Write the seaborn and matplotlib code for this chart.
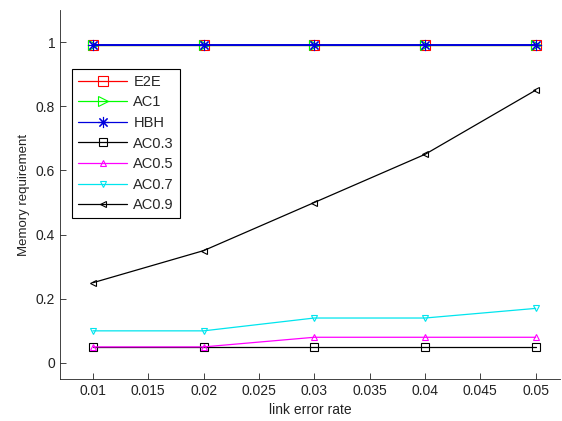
import numpy as np
import pandas as pd
import matplotlib
matplotlib.use("Agg")
import matplotlib.pyplot as plt
import seaborn as sns

# data
error_rate = [0.01, 0.02, 0.03, 0.04, 0.05]
e2e = [0.99, 0.99, 0.99, 0.99, 0.99]
ac1 = [0.99, 0.99, 0.99, 0.99, 0.99]
hbh = [0.99, 0.99, 0.99, 0.99, 0.99]
ac03 = [0.05, 0.05, 0.05, 0.05, 0.05]
ac05 = [0.05, 0.05, 0.08, 0.08, 0.08]
ac07 = [0.10, 0.10, 0.14, 0.14, 0.17]
ac09 = [0.25, 0.35, 0.50, 0.65, 0.85]

series_names = ["E2E", "AC1", "HBH", "AC0.3", "AC0.5", "AC0.7", "AC0.9"]
series_values = [e2e, ac1, hbh, ac03, ac05, ac07, ac09]

x_ticks = [0.01, 0.015, 0.02, 0.025, 0.03, 0.035, 0.04, 0.045, 0.05]
x_tick_labels = ["0.01", "0.015", "0.02", "0.025", "0.03", "0.035", "0.04", "0.045", "0.05"]
y_ticks = [0, 0.2, 0.4, 0.6, 0.8, 1]
y_tick_labels = ["0", "0.2", "0.4", "0.6", "0.8", "1"]

# styles per series
colors = ["#ff0000", "#00ff00", "#0000dd", "#000000", "#ff00ff", "#00e5ee", "#000000"]
markers = ["s", ">", (8, 2, 0), "s", "^", "v", "<"]
msizes = [7, 7, 8, 6, 5, 5, 5]
widths = [0.9, 0.9, 1.4, 0.9, 0.9, 0.9, 0.9]

df = pd.DataFrame({"rate": error_rate})
for name, vals in zip(series_names, series_values):
    df[name] = vals

sns.set_style("ticks")
plt.rcParams["font.family"] = ["Liberation Sans", "DejaVu Sans"]

fig = plt.figure(figsize=(5.62, 4.21), dpi=100)
ax = fig.add_axes([0.1068, 0.0998, 0.8897, 0.8765])

for name, c, m, ms, lw in zip(series_names, colors, markers, msizes, widths):
    sns.lineplot(
        data=df, x="rate", y=name, ax=ax, label=name,
        color=c, marker=m, markersize=ms,
        markerfacecolor="none", markeredgecolor=c, markeredgewidth=0.8,
        linewidth=lw,
    )

ax.set_xlim(0.00703, 0.0522)
ax.set_ylim(-0.05, 1.1)
ax.set_xticks(x_ticks)
ax.set_xticklabels(x_tick_labels)
ax.set_yticks(y_ticks)
ax.set_yticklabels(y_tick_labels)
ax.tick_params(direction="in", length=4, width=0.6, labelsize=10, colors="#222222")
ax.set_xlabel("link error rate", fontsize=10, color="#222222")
ax.set_ylabel("Memory requirement", fontsize=9.5, color="#222222")

sns.despine(ax=ax)
for s in ["left", "bottom"]:
    ax.spines[s].set_linewidth(0.6)
    ax.spines[s].set_color("#222222")

leg = ax.legend(
    loc="upper left", bbox_to_anchor=(0.024, 0.84), borderaxespad=0,
    fontsize=10.5, handlelength=3.4, handletextpad=0.4, labelspacing=0.45,
    fancybox=False, framealpha=1, edgecolor="black",
)
leg.get_frame().set_linewidth(0.8)
for line in leg.get_lines():
    line.set_linewidth(0.9)

fig.savefig("out.png", dpi=100)
